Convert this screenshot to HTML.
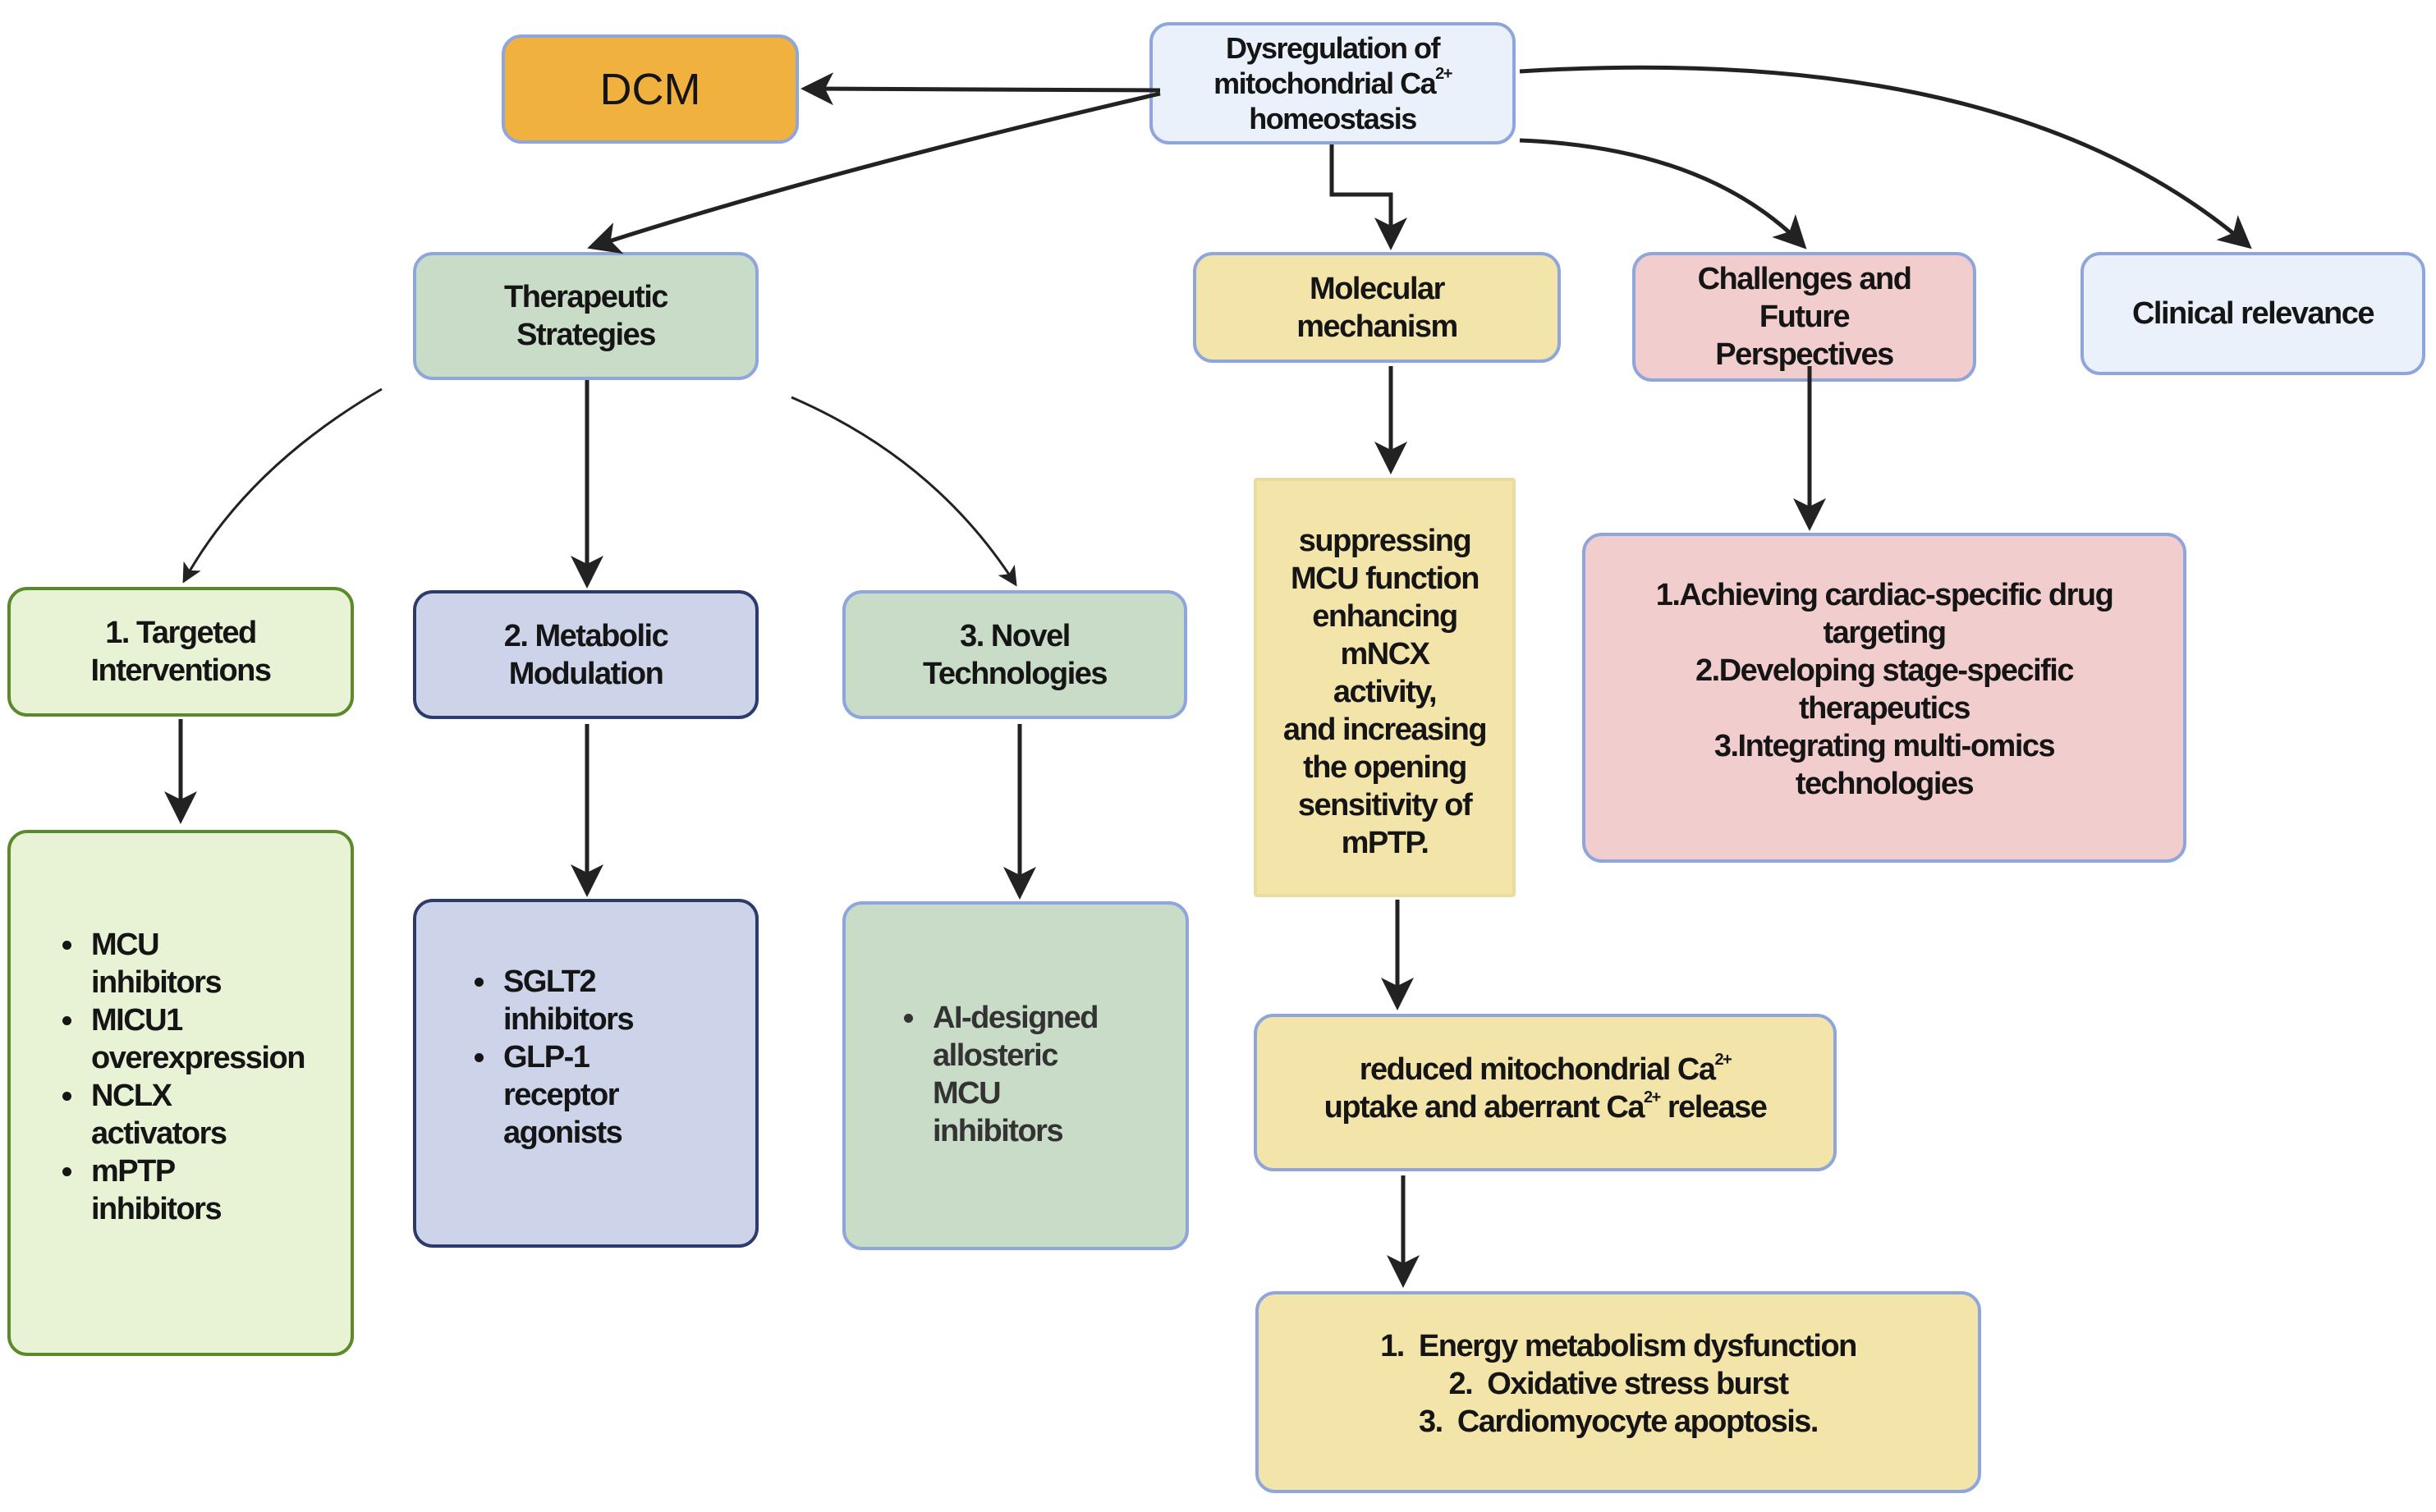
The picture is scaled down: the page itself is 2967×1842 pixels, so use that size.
<!DOCTYPE html>
<html><head><meta charset="utf-8"><style>
html,body{margin:0;padding:0;background:#fff;}
body{width:2967px;height:1842px;position:relative;overflow:hidden;font-family:"Liberation Sans",sans-serif;}
.b{position:absolute;box-sizing:border-box;border:4px solid #8ea6dc;border-radius:24px;display:flex;align-items:center;justify-content:center;text-align:center;font-weight:bold;font-size:38px;line-height:46px;letter-spacing:-1.5px;color:#151515;}
.l{justify-content:flex-start;text-align:left;}
ul{margin:0;padding-left:100px;}
li{padding-left:6px;}
sup{font-size:20px;line-height:0;vertical-align:18px;}
svg{position:absolute;left:0;top:0;}
</style></head><body>
<div class="b" style="left:611px;top:42px;width:362px;height:133px;background:#f0b13f;font-weight:normal;font-size:54px;letter-spacing:0;"><div>DCM</div></div>
<div class="b" style="left:1400px;top:27px;width:446px;height:149px;background:#eaf1fb;font-size:36px;line-height:43px;"><div>Dysregulation of<br>mitochondrial Ca<sup>2+</sup><br>homeostasis</div></div>
<div class="b" style="left:503px;top:307px;width:421px;height:156px;background:#c9dcc8;"><div>Therapeutic<br>Strategies</div></div>
<div class="b" style="left:1453px;top:307px;width:448px;height:135px;background:#f3e4a9;"><div>Molecular<br>mechanism</div></div>
<div class="b" style="left:1988px;top:307px;width:419px;height:158px;background:#f1cdcd;"><div>Challenges and<br>Future<br>Perspectives</div></div>
<div class="b" style="left:2534px;top:307px;width:420px;height:150px;background:#eaf1fb;"><div>Clinical relevance</div></div>
<div class="b" style="left:9px;top:715px;width:422px;height:158px;background:#e8f3d6;border-color:#5a8a2a;"><div>1. Targeted<br>Interventions</div></div>
<div class="b" style="left:503px;top:719px;width:421px;height:157px;background:#cdd4ea;border-color:#2c3b6b;"><div>2. Metabolic<br>Modulation</div></div>
<div class="b" style="left:1026px;top:719px;width:420px;height:157px;background:#c9dcc8;"><div>3. Novel<br>Technologies</div></div>
<div class="b l" style="left:9px;top:1011px;width:422px;height:641px;background:#e8f3d6;border-color:#5a8a2a;padding-bottom:40px;"><ul style="padding-left:92px"><li>MCU<br>inhibitors</li><li>MICU1<br>overexpression</li><li>NCLX<br>activators</li><li>mPTP<br>inhibitors</li></ul></div>
<div class="b l" style="left:503px;top:1095px;width:421px;height:425px;background:#cdd4ea;border-color:#2c3b6b;padding-bottom:40px;"><ul><li>SGLT2<br>inhibitors</li><li>GLP-1<br>receptor<br>agonists</li></ul></div>
<div class="b l" style="left:1026px;top:1098px;width:422px;height:425px;background:#c9dcc8;align-items:flex-start;padding-top:115px;"><ul style="color:#333"><li>AI-designed<br>allosteric<br>MCU<br>inhibitors</li></ul></div>
<div class="b" style="left:1527px;top:582px;width:319px;height:511px;background:#f3e4a9;border-color:#e8dca0;border-radius:4px;padding-top:10px;"><div>suppressing<br>MCU function<br>enhancing<br>mNCX<br>activity,<br>and increasing<br>the opening<br>sensitivity of<br>mPTP.</div></div>
<div class="b" style="left:1927px;top:649px;width:736px;height:402px;background:#f1cdcd;padding-bottom:20px;"><div>1.Achieving cardiac-specific drug<br>targeting<br>2.Developing stage-specific<br>therapeutics<br>3.Integrating multi-omics<br>technologies</div></div>
<div class="b" style="left:1527px;top:1235px;width:710px;height:192px;background:#f3e4a9;padding-bottom:10px;"><div>reduced mitochondrial Ca<sup>2+</sup><br>uptake and aberrant Ca<sup>2+</sup> release</div></div>
<div class="b" style="left:1529px;top:1573px;width:884px;height:246px;background:#f3e4a9;padding-bottom:20px;"><div>1.&nbsp; Energy metabolism dysfunction<br>2.&nbsp; Oxidative stress burst<br>3.&nbsp; Cardiomyocyte apoptosis.</div></div>
<svg width="2967" height="1842" viewBox="0 0 2967 1842">
<defs><marker id="a" markerWidth="8" markerHeight="8" refX="7" refY="4" orient="auto" markerUnits="strokeWidth"><path d="M0,0 L8,4 L0,8 L2,4 Z" fill="#222"/></marker></defs>
<g stroke="#222" stroke-width="5" fill="none" marker-end="url(#a)">
<path d="M1413,110 L980,108"/>
<path d="M1413,114 Q1000,210 720,301"/>
<path d="M1622,176 L1622,237 L1694,237 L1694,300"/>
<path d="M1851,171 Q2080,180 2197,300"/>
<path d="M1851,87 Q2450,50 2739,300"/>
<path d="M465,474 Q300,570 224,708" stroke-width="3"/>
<path d="M715,463 L715,712"/>
<path d="M964,484 Q1140,560 1237,712" stroke-width="3"/>
<path d="M220,876 L220,999"/>
<path d="M715,882 L715,1088"/>
<path d="M1242,882 L1242,1091"/>
<path d="M1694,446 L1694,573"/>
<path d="M2204,446 L2204,642"/>
<path d="M1702,1096 L1702,1226"/>
<path d="M1709,1432 L1709,1564"/>
</g></svg>
</body></html>
